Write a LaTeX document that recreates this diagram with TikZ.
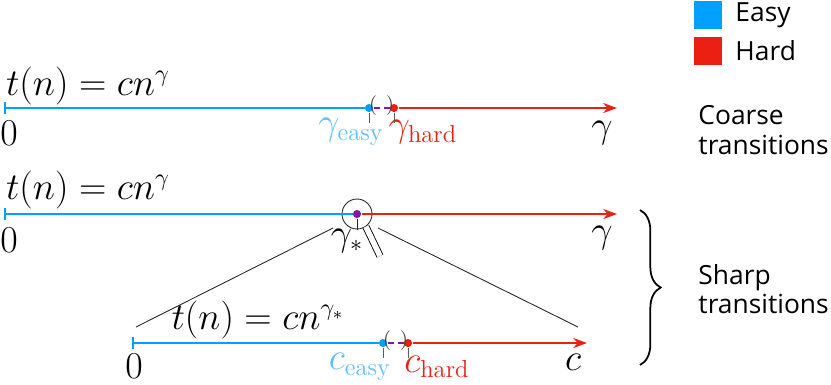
\documentclass[tikz,border=0pt]{standalone}
\usepackage{fontspec}
\newfontfamily\labelfont{Open Sans}
\usetikzlibrary{arrows.meta,positioning,decorations.pathreplacing}
\definecolor{easyblue}{RGB}{0,160,255}
\definecolor{easylabel}{RGB}{95,190,255}
\definecolor{hardred}{RGB}{236,32,18}
\definecolor{midpurple}{RGB}{135,20,165}
\begin{document}
\begin{tikzpicture}
[x=0.016cm, y=-0.016cm, node distance=0.2cm, font=\fontsize{16}{19}\selectfont]
\tikzstyle{easy}=[line width=1.1pt, easyblue]
\tikzstyle{hard}=[line width=1.1pt, hardred, -{Stealth[length=2.2mm, width=1.6mm]}]
\tikzstyle{mid}=[line width=1.1pt, midpurple, densely dashed]
\tikzstyle{dot}=[circle, inner sep=0mm, minimum size=1.3mm]
\tikzstyle{side}=[font=\labelfont\fontsize{12}{13.5}\selectfont, align=left, anchor=west, inner sep=0pt]
\tikzstyle{swatch}=[minimum size=0.45cm, inner sep=0mm]
\tikzstyle{tick}=[gray!70!black, thin]
\tikzstyle{paren}=[font=\small, text=black!75, inner sep=0pt]
\tikzstyle{zoomline}=[black!85, thin]
\useasboundingbox (0,0) rectangle (831,384);

% legend
\node[swatch, fill=easyblue]	(Seasy)	at (708,15)	{};
\node[swatch, fill=hardred]	(Shard)	at (708,51)	{};
\node[side]	(Leasy)	[right=of Seasy]	{Easy};
\node[side]	(Lhard)	[right=of Shard]	{Hard};

% coarse transitions
\coordinate (A0) at (4,108);
\coordinate (A1) at (617,108);
\node[dot, fill=easyblue]	(Ae)	at (369,108)	{};
\node[dot, fill=hardred]	(Ah)	at (394,108)	{};
\node	(At)	at (88,86)	{$t(n) = cn^{\gamma}$};
\node	(Az)	at (9,133)	{$0$};
\node	(Ag)	at (602,133)	{$\gamma$};
\node[text=easylabel]	(Ale)	at (351,132)	{$\gamma_{\mathrm{easy}}$};
\node[text=hardred]	(Alh)	at (423,132)	{$\gamma_{\mathrm{hard}}$};
\node[paren]	(Apl)	at (373,106)	{(};
\node[paren]	(Apr)	at (390,106)	{)};
\coordinate (Aet) at (369,123);
\coordinate (Aht) at (394,123);
\node[side]	(Acoarse)	at (698,130)	{Coarse\\transitions};

\draw [easy, {Bar[width=2mm]}-] (A0)--(Ae);
\draw [mid] (Ae)--(Ah);
\draw [hard] (Ah)--(A1);
\draw [tick] (Ae)--(Aet);
\draw [tick] (Ah)--(Aht);

% sharp transitions
\coordinate (B0) at (4,214);
\coordinate (B1) at (617,214);
\node[dot, fill=midpurple]	(Bs)	at (357,214)	{};
\node[circle, draw, black!85, minimum size=0.48cm, inner sep=0mm]	(Bz)	at (357,214)	{};
\node	(Bt)	at (88,190)	{$t(n) = cn^{\gamma}$};
\node	(Bzero)	at (9,240)	{$0$};
\node	(Bg)	at (602,238)	{$\gamma$};
\node	(Bls)	at (347,241)	{$\gamma_*$};
\coordinate (Bst) at (357,230);
\coordinate (Bh0) at (Bz.-55);
\coordinate (Bh1) at (380,256);
\coordinate (Bzl) at (333,228);
\coordinate (Bzr) at (378,228);

\draw [easy, {Bar[width=2mm]}-] (B0)--(Bs);
\draw [hard] (Bs)--(B1);
\draw [tick, black!85] (Bs)--(Bst);
\draw [thin, double, double distance=2.5pt] (Bh0)--(Bh1);

% zoomed region
\coordinate (C0) at (132,343);
\coordinate (C1) at (587,343);
\node[dot, fill=easyblue]	(Ce)	at (383,343)	{};
\node[dot, fill=hardred]	(Ch)	at (408,343)	{};
\node	(Ct)	at (258,320)	{$t(n) = cn^{\gamma_*}$};
\node	(Cz)	at (134,366)	{$0$};
\node	(Cg)	at (573,362)	{$c$};
\node[text=easylabel]	(Cle)	at (360,367)	{$c_{\mathrm{easy}}$};
\node[text=hardred]	(Clh)	at (437,367)	{$c_{\mathrm{hard}}$};
\node[paren]	(Cpl)	at (387,341)	{(};
\node[paren]	(Cpr)	at (404,341)	{)};
\coordinate (Cet) at (383,358);
\coordinate (Cht) at (408,358);
\coordinate (Czl) at (136,327);
\coordinate (Czr) at (578,327);

\draw [easy, {Bar[width=2mm]}-] (C0)--(Ce);
\draw [mid] (Ce)--(Ch);
\draw [hard] (Ch)--(C1);
\draw [tick] (Ce)--(Cet);
\draw [tick] (Ch)--(Cht);
\draw [zoomline] (Bzl)--(Czl);
\draw [zoomline] (Bzr)--(Czr);

% brace
\coordinate (Btop) at (640,210);
\coordinate (Bbot) at (640,365);
\draw [thick, decorate, decoration={brace, amplitude=0.33cm}] (Btop)--(Bbot);
\node[side]	(Bsharp)	at (698,289)	{Sharp\\transitions};

\end{tikzpicture}
\end{document}
